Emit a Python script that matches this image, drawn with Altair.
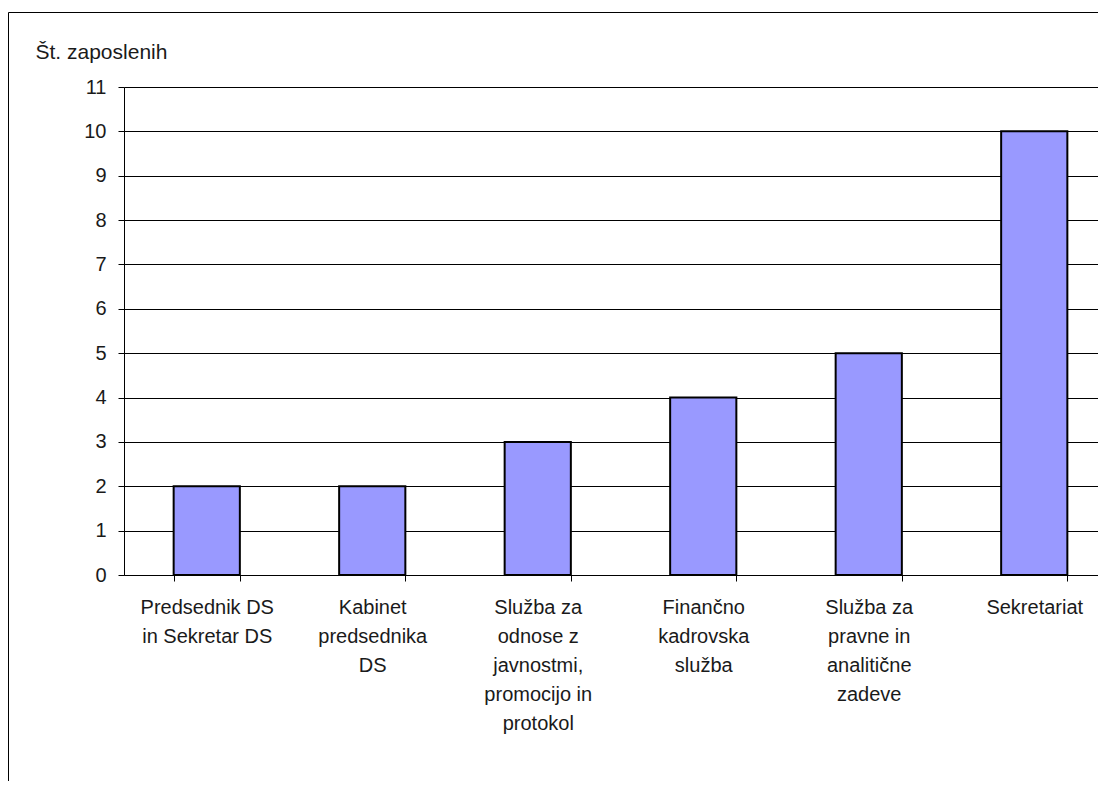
import altair as alt
import pandas as pd

categories = [
    "Predsednik DS\nin Sekretar DS",
    "Kabinet\npredsednika\nDS",
    "Služba za\nodnose z\njavnostmi,\npromocijo in\nprotokol",
    "Finančno\nkadrovska\nslužba",
    "Služba za\npravne in\nanalitične\nzadeve",
    "Sekretariat",
]
values = [2, 2, 3, 4, 5, 10]
y_ticks = list(range(0, 12))

df = pd.DataFrame({"cat": categories, "val": values})
FONT = "Liberation Sans"

bars = alt.Chart(df).mark_bar(
    color="#9999FF", stroke="black", strokeWidth=2
).encode(
    x=alt.X(
        "cat:N",
        sort=categories,
        scale=alt.Scale(paddingInner=0.6, paddingOuter=0.3, range=[0, 993]),
        axis=alt.Axis(
            title=None,
            labelAngle=0,
            labelExpr="split(datum.label, '\\n')",
            labelLineHeight=29,
            labelBaseline="top",
            labelAlign="center",
            labelFont=FONT,
            labelFontSize=20,
            labelColor="#1a1a1a",
            labelPadding=16,
            labelLimit=300,
            tickBand="extent",
            tickSize=6,
            tickColor="black",
            domainColor="black",
            grid=False,
        ),
    ),
    y=alt.Y(
        "val:Q",
        scale=alt.Scale(domain=[0, 11], nice=False),
        axis=alt.Axis(
            values=y_ticks,
            title="Št. zaposlenih",
            titleAngle=0,
            titleX=-89,
            titleY=-29,
            titleAlign="left",
            titleBaseline="alphabetic",
            titleFont=FONT,
            titleFontSize=21,
            titleFontWeight="normal",
            titleColor="#1a1a1a",
            labelFont=FONT,
            labelFontSize=20,
            labelColor="#1a1a1a",
            labelPadding=12,
            tickSize=6,
            tickColor="black",
            domainColor="black",
            gridColor="black",
            gridOpacity=1,
            gridWidth=1,
        ),
    ),
)

frame = alt.Chart(pd.DataFrame({"a": [0]})).mark_rect(
    fill="transparent", stroke="black", strokeWidth=1
).encode(
    x=alt.value(-115.5), x2=alt.value(1300),
    y=alt.value(-74.5), y2=alt.value(1000),
)

chart = alt.layer(bars, frame).properties(
    width=974,
    height=488,
    autosize=alt.AutoSizeParams(type="none"),
    padding={"left": 116, "top": 79, "right": 0, "bottom": 206},
).configure_view(stroke=None).configure(background="white")

chart.save("out.html", embed_options={"renderer": "svg", "actions": False})
